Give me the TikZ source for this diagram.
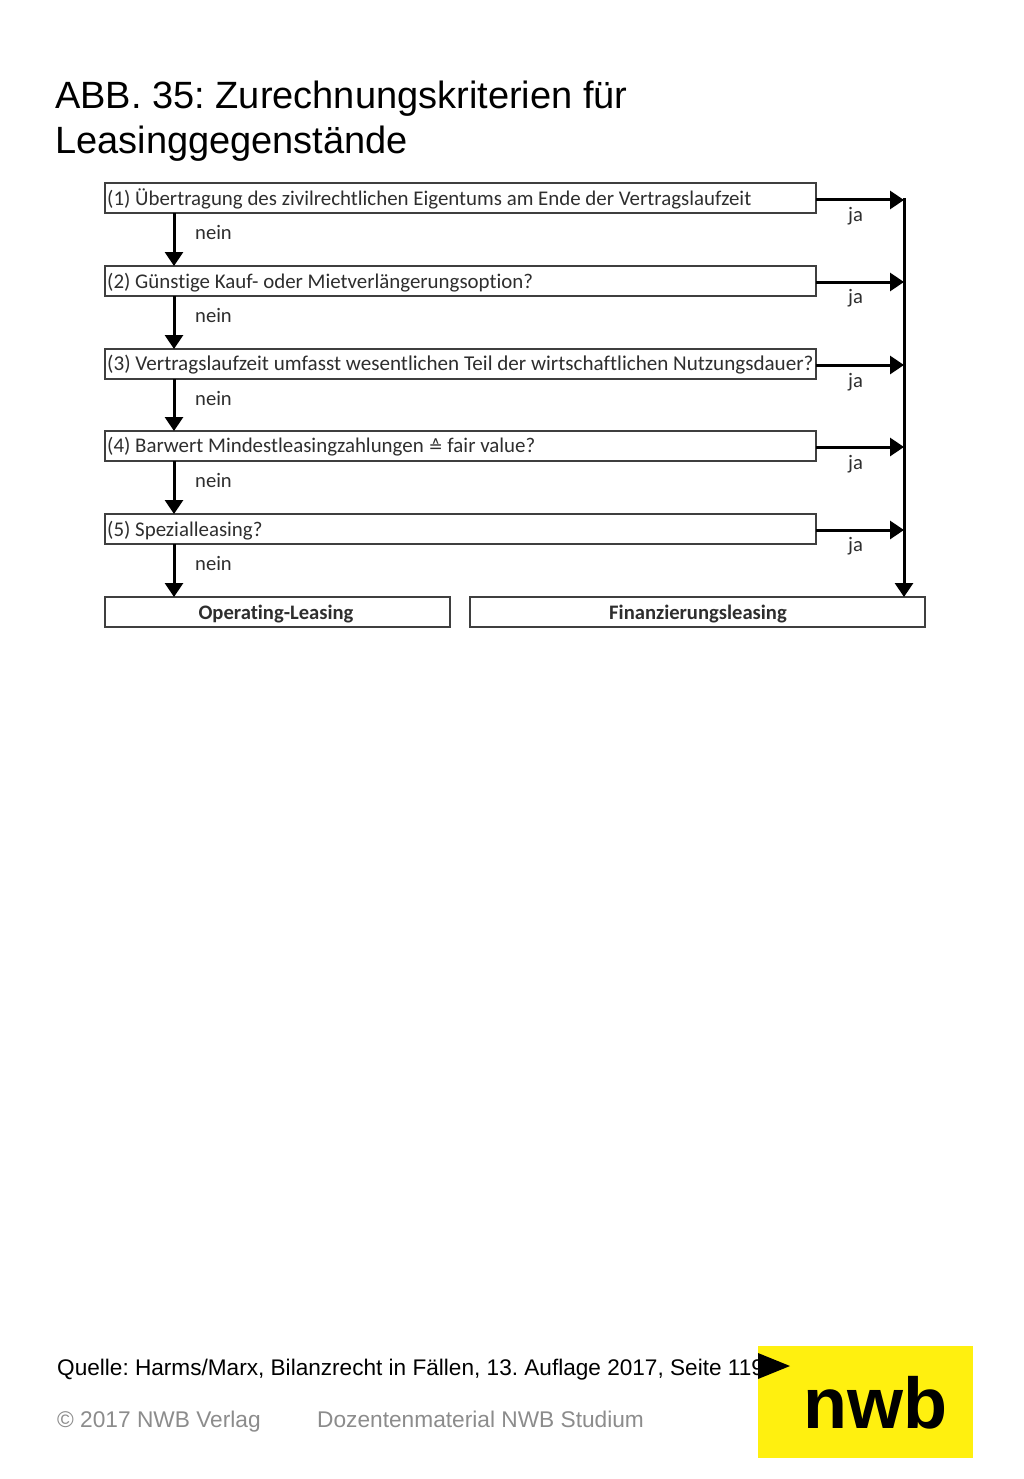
\documentclass[tikz,border=0pt]{standalone}
\usepackage{fontspec}
\setmainfont{Liberation Sans}
\newfontfamily\boxfont[Ligatures=CommonOff]{Carlito}
\newfontfamily\symfont{DejaVu Sans}
\usetikzlibrary{arrows.meta,calc}
\definecolor{boxline}{HTML}{3F3F3F}
\definecolor{inktext}{HTML}{2E2E2E}
\definecolor{nwbyellow}{HTML}{FFF00F}
\definecolor{footgrey}{HTML}{8C8C8C}
\tikzset{
  x=1pt,y=-1pt,
  critbox/.style={draw=boxline,line width=2pt,fill=white,minimum height=30pt,inner sep=0pt,outer sep=0pt,anchor=north west},
  boxtext/.style={font=\boxfont\fontsize{20.9}{24}\selectfont,text=inktext,anchor=west,inner sep=0pt},
  widetext/.style={font=\boxfont\fontsize{21.1}{24}\selectfont,text=inktext,anchor=west,inner sep=0pt},
  restext/.style={font=\boxfont\bfseries\fontsize{20.6}{24}\selectfont,text=inktext,inner sep=0pt},
  flowlabel/.style={font=\boxfont\fontsize{20.6}{24}\selectfont,text=inktext,anchor=west,inner sep=0pt},
  flow/.style={line width=3pt,black,-{Triangle[length=14pt,width=18pt]}},
  titletext/.style={font=\fontsize{38}{45}\selectfont,text=black,anchor=base west,inner sep=0pt},
  sourcetext/.style={font=\fontsize{22.6}{28}\selectfont,text=black,anchor=base west,inner sep=0pt},
  foottext/.style={font=\fontsize{22.7}{28}\selectfont,text=footgrey,anchor=base west,inner sep=0pt},
}
\frenchspacing
\begin{document}
\begin{tikzpicture}
\useasboundingbox (0,0) rectangle (1024,1479);
\fill[white] (0,0) rectangle (1024,1479);
\node[titletext] (t1) at (55,109) {ABB. 35: Zurechnungskriterien für};
\node[titletext] (t2) at (55,154) {Leasinggegenstände};
% boxes
\node[critbox,minimum width=711.5pt] (b1) at (104.5,183) {};
\node[critbox,minimum width=711.5pt] (b2) at (104.5,266) {};
\node[critbox,minimum width=711.5pt] (b3) at (104.5,349) {};
\node[critbox,minimum width=711.5pt] (b4) at (104.5,431) {};
\node[critbox,minimum width=711.5pt] (b5) at (104.5,514) {};
\node[critbox,minimum width=345pt] (op) at (104.5,597) {};
\node[critbox,minimum width=455pt] (fi) at (470,597) {};
% box texts
\node[boxtext] (x1) at (107,199) {(1) Übertragung des zivilrechtlichen Eigentums am Ende der Vertragslaufzeit};
\node[boxtext] (x2) at (107,283) {(2) Günstige Kauf- oder Mietverlängerungsoption?};
\node[widetext] (x3) at (107,365) {(3) Vertragslaufzeit umfasst wesentlichen Teil der wirtschaftlichen Nutzungsdauer?};
\node[boxtext] (x4) at (107,447) {(4) Barwert Mindestleasingzahlungen {\symfont\fontsize{17}{20}\selectfont ≙} fair value?};
\node[boxtext] (x5) at (107,531) {(5) Spezialleasing?};
\node[restext] (x6) at (276,614) {Operating-Leasing};
\node[restext] (x7) at (698,614) {Finanzierungsleasing};
% nein connectors
\coordinate (down) at (174,0);
\draw[flow] (b1.south -| down) -- (b2.north -| down);
\draw[flow] (b2.south -| down) -- (b3.north -| down);
\draw[flow] (b3.south -| down) -- (b4.north -| down);
\draw[flow] (b4.south -| down) -- (b5.north -| down);
\draw[flow] (b5.south -| down) -- (op.north -| down);
\node[flowlabel] (n1) at (195,232) {nein};
\node[flowlabel] (n2) at (195,315) {nein};
\node[flowlabel] (n3) at (195,398) {nein};
\node[flowlabel] (n4) at (195,480) {nein};
\node[flowlabel] (n5) at (195,563) {nein};
% ja connectors
\coordinate (j1) at (904,200);
\coordinate (j2) at (904,282);
\coordinate (j3) at (904,365);
\coordinate (j4) at (904,447);
\coordinate (j5) at (904,530);
\draw[flow] (b1.east |- j1) -- (j1);
\draw[flow] (b2.east |- j2) -- (j2);
\draw[flow] (b3.east |- j3) -- (j3);
\draw[flow] (b4.east |- j4) -- (j4);
\draw[flow] (b5.east |- j5) -- (j5);
\draw[flow] ($(j1)+(0,-1.5)$) -- (fi.north -| j1);
\node[flowlabel] (y1) at (848,216) {ja};
\node[flowlabel] (y2) at (848,298) {ja};
\node[flowlabel] (y3) at (848,382) {ja};
\node[flowlabel] (y4) at (848,464) {ja};
\node[flowlabel] (y5) at (848,546) {ja};
% footer
\node[sourcetext] (src) at (57,1375) {Quelle: Harms/Marx, Bilanzrecht in Fällen, 13. Auflage 2017, Seite 119};
\node[foottext] (f1) at (57,1427) {© 2017 NWB Verlag};
\node[foottext] (f2) at (317,1427) {Dozentenmaterial NWB Studium};
% logo
\fill[nwbyellow] (758,1346) rectangle (973,1458);
\fill[black] (758,1353) -- (790,1366) -- (758,1379) -- cycle;
\node[font=\bfseries\fontsize{72}{80}\selectfont,text=black,inner sep=0pt,anchor=base] (logo) at (875,1428) {nwb};
\end{tikzpicture}
\end{document}
